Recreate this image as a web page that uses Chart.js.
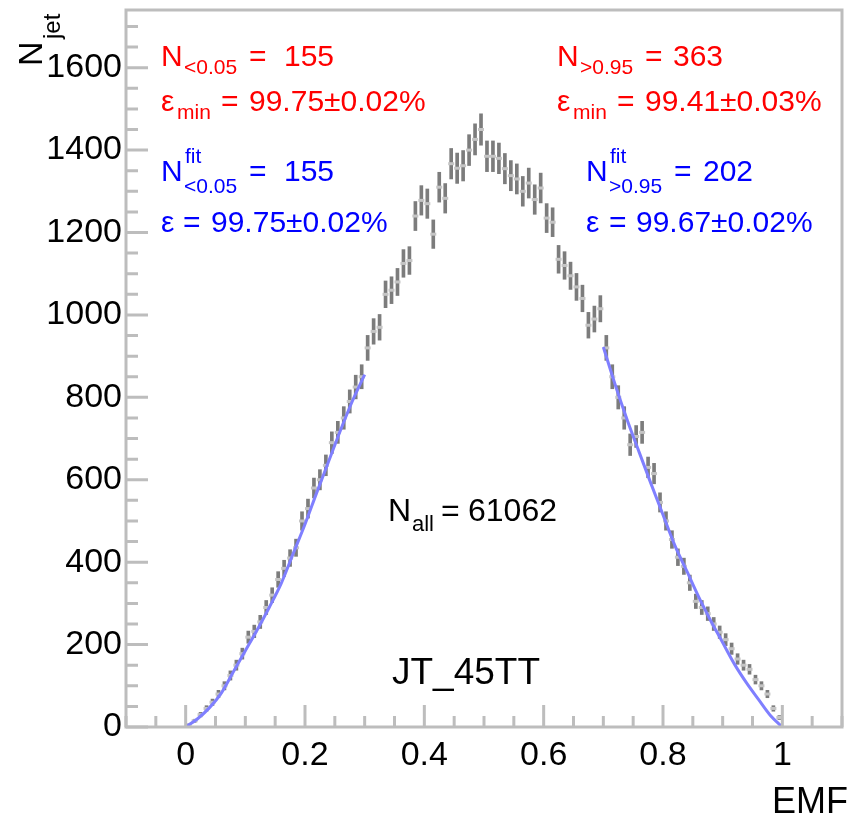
<!DOCTYPE html>
<html>
<head>
<meta charset="utf-8">
<script src="https://cdn.jsdelivr.net/npm/chart.js@4.4.1/dist/chart.umd.min.js"></script>
<style>
  html, body { margin: 0; padding: 0; background: #fff; }
  canvas { display: block; }
</style>
</head>
<body>
<canvas id="c" width="849" height="821"></canvas>
<script>
// EMF distribution of JT_45TT jets: histogram in 0.01 bins with fits on both tails
const binWidth = 0.01;
const counts = [
  5, 15, 30, 45, 60, 80, 100, 125, 150, 178,
  218, 232, 255, 290, 320, 358, 385, 410, 435, 500,
  530, 580, 600, 635, 690, 715, 750, 790, 825, 850,
  920, 960, 970, 1050, 1060, 1080, 1125, 1132, 1240, 1278,
  1270, 1196, 1310, 1283, 1367, 1356, 1362, 1400, 1426, 1450,
  1385, 1385, 1380, 1355, 1338, 1330, 1300, 1320, 1280, 1308,
  1235, 1225, 1135, 1120, 1095, 1068, 1040, 975, 990, 1015,
  920, 850, 800, 750, 685, 705, 715, 630, 615, 545,
  500, 455, 412, 390, 350, 305, 290, 275, 250, 230,
  212, 190, 165, 150, 140, 115, 100, 80, 45, 23
];
const binCenters = counts.map((_, i) => +(binWidth * (i + 0.5)).toFixed(3));

// fitted curves on the low and high EMF sides
const fitLeftX  = [0, 0.02, 0.04, 0.06, 0.08, 0.10, 0.12, 0.14, 0.16, 0.18, 0.20, 0.22, 0.24, 0.26, 0.28, 0.30];
const fitLeftY  = [0, 20, 47, 83, 134, 185, 236, 290, 348, 420, 492, 570, 646, 722, 793, 855];
const fitRightX = [0.70, 0.72, 0.74, 0.76, 0.78, 0.80, 0.82, 0.84, 0.86, 0.88, 0.90, 0.92, 0.94, 0.96, 0.98, 1.00];
const fitRightY = [922, 830, 745, 667, 590, 515, 440, 378, 315, 258, 205, 152, 107, 67, 28, 0];

// axis ticks
const xMajorTicks = [0, 0.2, 0.4, 0.6, 0.8, 1];
const xTickLabels = ['0', '0.2', '0.4', '0.6', '0.8', '1'];
const yMajorTicks = [0, 200, 400, 600, 800, 1000, 1200, 1400, 1600];
const yTickLabels = ['0', '200', '400', '600', '800', '1000', '1200', '1400', '1600'];
const xRange = [-0.1, 1.1];
const yRange = [0, 1740];
const xMinorStep = 0.05;
const yMinorStep = 50;

const FONT = '"Liberation Sans", Arial, Helvetica, sans-serif';
const AXIS_GREY = '#bdbdbd';

const errorBars = binCenters.map((x, i) => ({ x, y: [counts[i] - Math.sqrt(counts[i]), counts[i] + Math.sqrt(counts[i])] }));
const binMarks = binCenters.map((x, i) => ({ x, y: counts[i] }));
const toPoints = (xs, ys) => xs.map((x, i) => ({ x, y: ys[i] }));

// frame, inward ticks and text labels in ROOT style
const framePlugin = {
  id: 'rootFrame',
  afterDraw(chart) {
    const { ctx, chartArea: a, scales: { x, y } } = chart;
    ctx.save();
    ctx.strokeStyle = AXIS_GREY;
    ctx.lineWidth = 3;
    ctx.lineCap = 'butt';
    ctx.strokeRect(a.left, a.top, a.right - a.left, a.bottom - a.top);

    ctx.beginPath();
    for (let k = Math.ceil(xRange[0] / xMinorStep); k * xMinorStep <= xRange[1] + 1e-9; k++) {
      const v = +(k * xMinorStep).toFixed(3);
      const px = x.getPixelForValue(v);
      const major = xMajorTicks.some(m => Math.abs(m - v) < 1e-6);
      ctx.moveTo(px, a.bottom);
      ctx.lineTo(px, a.bottom - (major ? 22 : 11));
    }
    for (let k = 0; k * yMinorStep <= yRange[1]; k++) {
      const v = k * yMinorStep;
      const py = y.getPixelForValue(v);
      const major = yMajorTicks.includes(v);
      ctx.moveTo(a.left, py);
      ctx.lineTo(a.left + (major ? 22 : 12), py);
    }
    ctx.stroke();

    const put = (t, px, py, size, color) => {
      ctx.font = size + 'px ' + FONT;
      ctx.fillStyle = color;
      ctx.fillText(t, px, py);
    };
    ctx.textAlign = 'left';
    ctx.textBaseline = 'alphabetic';

    const RED = '#ff0000', BLUE = '#0000ff', BLACK = '#000000';
    // left block
    put('N', 161, 66, 30, RED); put('<0.05', 184, 74, 21, RED);
    put('=', 249, 66, 30, RED); put('155', 284, 66, 30, RED);
    put('\u03b5', 161, 111, 30, RED); put('min', 177, 119, 21, RED);
    put('=', 221, 111, 30, RED); put('99.75\u00b10.02%', 249, 111, 30, RED);
    put('N', 161, 181, 30, BLUE); put('fit', 185, 163, 21, BLUE); put('<0.05', 184, 193, 21, BLUE);
    put('=', 249, 181, 30, BLUE); put('155', 284, 181, 30, BLUE);
    put('\u03b5', 161, 232, 30, BLUE); put('=', 183, 232, 30, BLUE);
    put('99.75\u00b10.02%', 211, 232, 30, BLUE);
    // right block
    put('N', 557, 66, 30, RED); put('>0.95', 580, 74, 21, RED);
    put('=', 645, 66, 30, RED); put('363', 673, 66, 30, RED);
    put('\u03b5', 557, 111, 30, RED); put('min', 573, 119, 21, RED);
    put('=', 617, 111, 30, RED); put('99.41\u00b10.03%', 645, 111, 30, RED);
    put('N', 586, 181, 30, BLUE); put('fit', 610, 163, 21, BLUE); put('>0.95', 609, 193, 21, BLUE);
    put('=', 674, 181, 30, BLUE); put('202', 703, 181, 30, BLUE);
    put('\u03b5', 586, 232, 30, BLUE); put('=', 609, 232, 30, BLUE);
    put('99.67\u00b10.02%', 636, 232, 30, BLUE);
    // centre labels
    put('N', 388, 521, 32, BLACK); put('all', 412, 531, 22, BLACK);
    put('=', 441, 521, 32, BLACK); put('61062', 468, 521, 32, BLACK);
    put('JT_45TT', 392, 684, 37, BLACK);

    // axis titles
    ctx.textAlign = 'right';
    put('EMF', 848, 813, 36, BLACK);
    ctx.textAlign = 'left';
    ctx.translate(42, 66);
    ctx.rotate(-Math.PI / 2);
    put('N', 0, 0, 34, BLACK);
    put('jet', 27, 18, 24, BLACK);
    ctx.restore();
  }
};

new Chart(document.getElementById('c'), {
  type: 'bar',
  data: {
    datasets: [
      {
        type: 'line', data: toPoints(fitLeftX, fitLeftY), order: 0,
        borderColor: '#7f7fff', borderWidth: 3, pointRadius: 0, cubicInterpolationMode: 'monotone', fill: false
      },
      {
        type: 'line', data: toPoints(fitRightX, fitRightY), order: 0,
        borderColor: '#7f7fff', borderWidth: 3, pointRadius: 0, cubicInterpolationMode: 'monotone', fill: false
      },
      {
        type: 'scatter', data: binMarks, order: 1,
        pointStyle: 'line', pointRadius: 3, borderWidth: 3, borderColor: '#c4c4c4', backgroundColor: '#c4c4c4'
      },
      {
        type: 'bar', data: errorBars, order: 2,
        backgroundColor: '#7c7c7c', borderWidth: 0, barThickness: 3, grouped: false
      }
    ]
  },
  options: {
    responsive: false,
    animation: false,
    devicePixelRatio: 1,
    events: [],
    layout: { padding: { top: 10, right: 1, left: 0, bottom: 0 } },
    plugins: { legend: { display: false }, tooltip: { enabled: false } },
    scales: {
      x: {
        type: 'linear', min: xRange[0], max: xRange[1], offset: false,
        grid: { display: false, drawTicks: false, offset: false },
        border: { display: false },
        afterBuildTicks: s => { s.ticks = xMajorTicks.map(v => ({ value: v })); },
        afterFit: s => { s.height = 94; s.paddingLeft = 0; s.paddingRight = 0; s.paddingTop = 0; s.paddingBottom = 0; },
        ticks: {
          autoSkip: false, maxRotation: 0, minRotation: 0, padding: 8, color: '#000',
          font: { family: FONT, size: 34 },
          callback: v => xTickLabels[xMajorTicks.findIndex(m => Math.abs(m - v) < 1e-6)] ?? ''
        }
      },
      y: {
        type: 'linear', min: yRange[0], max: yRange[1],
        grid: { display: false, drawTicks: false },
        border: { display: false },
        afterBuildTicks: s => { s.ticks = yMajorTicks.map(v => ({ value: v })); },
        afterFit: s => { s.width = 126; s.paddingLeft = 0; s.paddingRight = 0; s.paddingTop = 0; s.paddingBottom = 0; },
        ticks: {
          autoSkip: false, padding: 4, color: '#000',
          font: { family: FONT, size: 34 },
          callback: v => yTickLabels[yMajorTicks.indexOf(v)] ?? ''
        }
      }
    }
  },
  plugins: [framePlugin]
});
</script>
</body>
</html>
